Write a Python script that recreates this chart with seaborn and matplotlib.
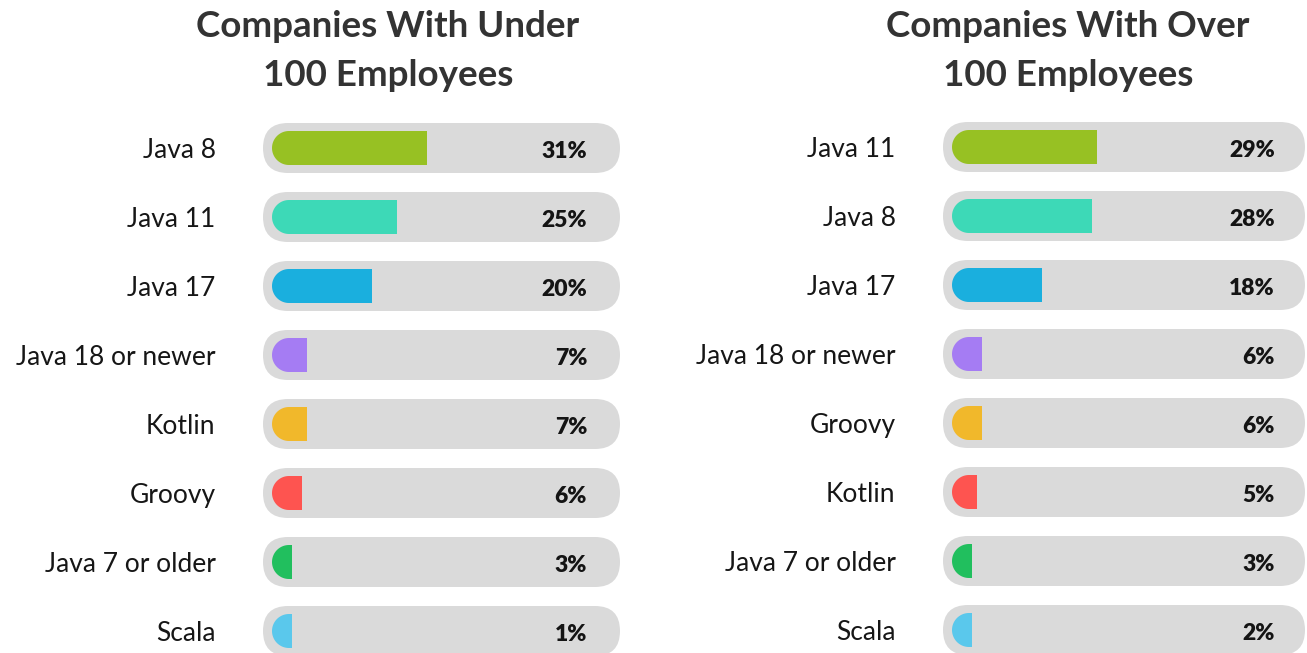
import numpy as np
import pandas as pd
import matplotlib
matplotlib.use("Agg")
import matplotlib.pyplot as plt
import seaborn as sns
from matplotlib.patches import FancyBboxPatch, Polygon

# Data
under_labels = ["Java 8", "Java 11", "Java 17", "Java 18 or newer",
                "Kotlin", "Groovy", "Java 7 or older", "Scala"]
under_values = [31, 25, 20, 7, 7, 6, 3, 1]

over_labels = ["Java 11", "Java 8", "Java 17", "Java 18 or newer",
               "Groovy", "Kotlin", "Java 7 or older", "Scala"]
over_values = [29, 28, 18, 6, 6, 5, 3, 2]

panel_titles = [("Companies With Under", "100 Employees"),
                ("Companies With Over", "100 Employees")]

# One colour per rank position
rank_colors = ["#97c123", "#3dd9b7", "#1aafde", "#a57cf3",
               "#f1b82b", "#fe5450", "#21bf5e", "#5ac8ec"]
track_color = "#dadada"

sns.set_theme(style="white")
plt.rcParams["font.family"] = ["Lato", "DejaVu Sans"]

W, H = 1307, 653
fig = plt.figure(figsize=(W / 100, H / 100), dpi=100)
fig.patch.set_facecolor("white")

PX_PER_PCT = 5.0     # horizontal scale: pixels per percentage point
ROW_PX = 69.0        # vertical distance between rows in pixels
BAR_PX = 34.0        # coloured bar thickness
TRACK_PX = 50.0      # grey track thickness


def draw_panel(ax_left, ax_right, bar_start, track_left, track_right,
               first_row, value_right, title_cx, labels, values, title):
    ax = fig.add_axes([ax_left / W, 0, (ax_right - ax_left) / W, (H - 110) / H])
    df = pd.DataFrame({"lang": labels, "share": values})
    bar_h = BAR_PX / ROW_PX
    sns.barplot(data=df, x="share", y="lang", hue="lang", palette=rank_colors,
                order=labels, hue_order=labels, legend=False, orient="h",
                width=bar_h, dodge=False, saturation=1, ax=ax)

    xlim = ((ax_left - bar_start) / PX_PER_PCT, (ax_right - bar_start) / PX_PER_PCT)
    ylim = ((H - first_row) / ROW_PX, (110 - first_row) / ROW_PX)

    # Reshape each bar: rounded left end, flat right end
    rx = (BAR_PX / 2) / PX_PER_PCT
    bars = [p for p in ax.patches]
    for p in bars:
        x0, y0 = p.get_x(), p.get_y()
        w, h = p.get_width(), p.get_height()
        color = p.get_facecolor()
        p.remove()
        cy = y0 + h / 2
        t = np.linspace(np.pi / 2, 3 * np.pi / 2, 40)
        arc = np.column_stack([x0 + rx + rx * np.cos(t), cy - (h / 2) * np.sin(t)])
        x_end = x0 + max(w, rx + 0.6)
        pts = np.vstack([arc, [[x_end, cy + h / 2], [x_end, cy - h / 2]]])
        ax.add_patch(Polygon(pts, closed=True, facecolor=color,
                             edgecolor="none", zorder=3))

    # Grey rounded tracks behind the bars
    th = TRACK_PX / ROW_PX
    r = (TRACK_PX / 2) / PX_PER_PCT
    tx0 = (track_left - bar_start) / PX_PER_PCT
    tx1 = (track_right - bar_start) / PX_PER_PCT
    for i in range(len(labels)):
        ax.add_patch(FancyBboxPatch((tx0, i - th / 2), tx1 - tx0, th,
                                    boxstyle=f"round,pad=0,rounding_size={r}",
                                    mutation_aspect=(th / 2) / r,
                                    facecolor=track_color, edgecolor="none",
                                    zorder=1))

    # Value labels
    vx = (value_right - bar_start) / PX_PER_PCT
    for i, v in enumerate(values):
        ax.text(vx, i + 0.02, f"{v}%", ha="right", va="center_baseline",
                fontsize=16.5, fontweight="heavy", color="#141414", zorder=4)

    ax.set_xlim(*xlim)
    ax.set_ylim(*ylim)
    ax.set_xlabel("")
    ax.set_ylabel("")
    ax.set_xticks([])
    ax.tick_params(axis="y", length=0, pad=32, labelsize=19, labelcolor="#161616")
    for s in ax.spines.values():
        s.set_visible(False)
    ax.set_facecolor("none")

    fig.text(title_cx / W, 1 - 37 / H, title[0], ha="center", va="baseline",
             fontsize=26.5, fontweight="bold", color="#333333")
    fig.text(title_cx / W, 1 - 86 / H, title[1], ha="center", va="baseline",
             fontsize=26.5, fontweight="bold", color="#333333")


draw_panel(260, 623, 272, 263, 620, 148, 587, 388,
           under_labels, under_values, panel_titles[0])
draw_panel(940, 1307, 952, 943, 1305, 147, 1275, 1068,
           over_labels, over_values, panel_titles[1])

fig.savefig("out.png", dpi=100, facecolor="white")
